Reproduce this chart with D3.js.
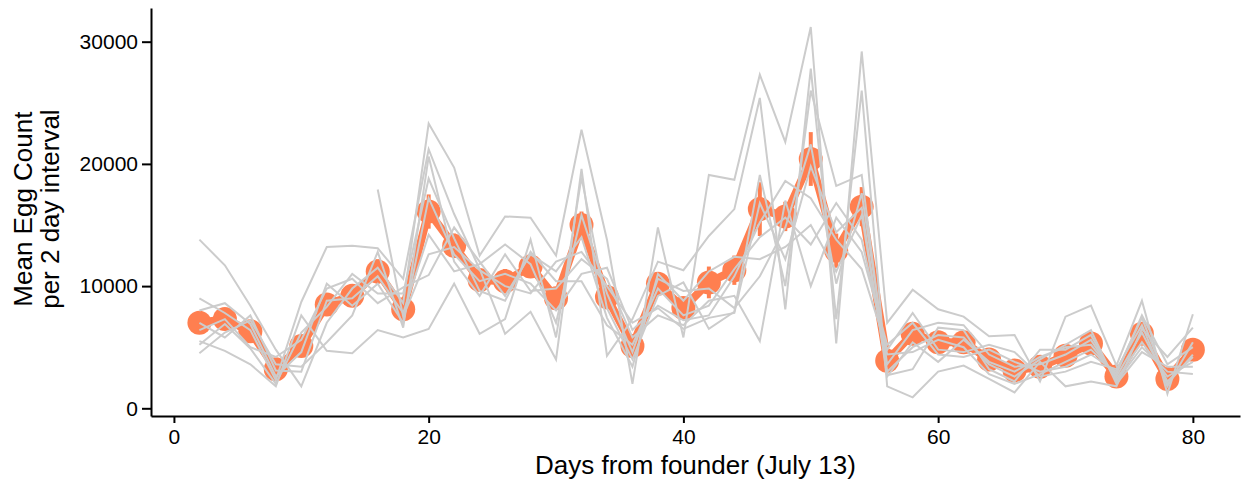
<!DOCTYPE html>
<html>
<head>
<meta charset="utf-8">
<script src="https://cdn.jsdelivr.net/npm/d3@7"></script>
<style>
  body { margin: 0; background: #fff; }
  svg { display: block; font-family: "Liberation Sans", Arial, sans-serif; }
</style>
</head>
<body>
<div id="chart"></div>
<script>
// days sampled every 2 days
const days = [2,4,6,8,10,12,14,16,18,20,22,24,26,28,30,32,34,36,38,40,
              42,44,46,48,50,52,54,56,58,60,62,64,66,68,70,72,74,76,78,80];

// mean egg count per interval (orange points)
const meanEggs = [7000,7300,6300,3200,5100,8500,9200,11200,8100,16100,
                  13300,10500,10400,11600,9000,15000,9100,5100,10200,8200,
                  10300,11300,16300,15700,20400,12900,16500,3900,6100,5400,
                  5400,4000,3100,3400,4300,5300,2600,6100,2400,4800];

// standard error (orange bars)
const seEggs = [600,700,600,400,800,900,900,1000,600,1400,
                1000,700,1000,900,900,1100,1000,600,700,700,
                1300,1200,2200,1200,2200,1400,1600,600,900,500,
                400,400,500,200,600,600,200,400,300,600];

// replicate counts, one row per day (last replicate starts at day 16)
const replicateCounts = [
  [13800, 9000, 5500, 4500, 6400, 8000, 7000, 5200, null],
  [11700, 7800, 4700, 6200, 7300, 8600, 5800, 6900, null],
  [ 8400, 6400, 3600, 7200, 5000, 6900, 7600, 4900, null],
  [ 4800, 2300, 1800, 3600, 4200, 2600, 3100, 2000, null],
  [ 1800, 8700, 7600, 3400, 5600, 4600, 3000, 6200, null],
  [ 7000,13200, 4700, 5400, 9800,10200, 8800, 8300, null],
  [ 9800,13300, 4500, 7600,10600, 8400, 9000,11000, null],
  [11500,13100, 6400,12800, 8600,10200,10800, 9400,17900],
  [ 8600,10600, 5800, 6600, 9900, 7000, 7800, 9400, 7500],
  [23300,21200, 6500,20600,10900,17200,14200,18800,12600],
  [19700,15900,10200,12000,14800,12600,11200,13900,13200],
  [12500,11400, 6100, 9200,12000,10400,11800, 9600,11300],
  [15700, 6100, 7300,12600, 9200,11000,13400, 8800,10000],
  [15600, 7900,13800, 9600,12600,10200,11800,12800, 9400],
  [12500, 4000, 5800, 9800,11200, 8000, 7000,10400,12000],
  [22800,19600,18900,12200,14000,11000,15800,10400,12800],
  [13800, 4300, 8200,10600, 7400,11500, 9400, 6800,10000],
  [ 2000, 7300, 4000, 5800, 3400, 6400, 4600, 5200, 7000],
  [14800,12000, 9200, 7600,11000, 8400,10600, 9800, 8200],
  [ 5800,11300,10300, 6800, 8800, 7200, 9600, 7600, 6500],
  [19100,14100, 6500, 8800,11200, 7600, 9800, 8400, 7400],
  [18700,16300, 7900, 9200,12400,10800, 8200,11400, 7800],
  [27300,25400,19100, 5500,12200,15200,10800,14000,16800],
  [21800, 8100,10000,17000,13200,18600,14800,15600,12200],
  [31200,27800,26000,10000,15000,17200,21600,13400,19800],
  [ 5300, 7300,18200,15600,11200,13800,10200,16800,14400],
  [29200,26000,19100,12800,15800,11400,17600,13800,16400],
  [ 7000, 1800, 2700, 5200, 3000, 4800, 3600, 4400, 2600],
  [ 9700,  900, 3200, 7000, 5000, 7800, 6400, 4600, 5400],
  [ 8100, 3000, 6600, 4400, 6000, 4800, 7000, 5600, 3800],
  [ 7500, 3500, 6400, 4200, 5800, 4600, 6800, 5000, 5600],
  [ 5900, 2400, 3200, 4800, 3600, 5200, 4400, 2800, 3800],
  [ 6000, 1300, 2200, 3800, 2600, 4600, 3400, 2000, 3000],
  [ 2200, 3800, 4800, 3000, 4000, 2600, 3600, 2800, 4200],
  [ 7500, 1800, 4800, 3400, 5200, 3000, 4400, 3800, 5000],
  [ 8400, 2200, 6000, 4400, 6400, 3800, 5600, 4800, 5200],
  [ 3500, 1800, 2200, 3000, 2000, 3200, 2400, 2800, 2600],
  [ 8800, 6500, 5000, 7400, 4600, 6800, 5400, 7600, 6200],
  [ 1200, 4200, 3000, 2000, 3400, 1800, 2600, 3600, 2200],
  [ 7700, 6600, 2800, 4400, 3400, 5400, 3800, 5000, 4200]
];

const xTicks = [0, 20, 40, 60, 80];
const yTicks = [0, 10000, 20000, 30000];

const width = 1242, height = 489;
const margin = { top: 8, right: 2, bottom: 73, left: 151 };
const innerWidth = width - margin.left - margin.right;
const innerHeight = height - margin.top - margin.bottom;

const xScale = d3.scaleLinear().domain([-1.8, 83.7]).range([0, innerWidth]);
const yScale = d3.scaleLinear().domain([-630, 32757]).range([innerHeight, 0]);

const svg = d3.select("#chart")
  .append("svg")
  .attr("width", width)
  .attr("height", height);

const g = svg.append("g")
  .attr("transform", `translate(${margin.left},${margin.top})`);

const orange = "#ff7f50";

// mean line
const meanLine = d3.line()
  .x((d, i) => xScale(days[i]))
  .y(d => yScale(d));

g.append("path")
  .datum(meanEggs)
  .attr("d", meanLine)
  .attr("fill", "none")
  .attr("stroke", orange)
  .attr("stroke-width", 8)
  .attr("stroke-linejoin", "round");

// error bars
g.selectAll(".err")
  .data(meanEggs)
  .join("line")
  .attr("class", "err")
  .attr("x1", (d, i) => xScale(days[i]))
  .attr("x2", (d, i) => xScale(days[i]))
  .attr("y1", (d, i) => yScale(d - seEggs[i]))
  .attr("y2", (d, i) => yScale(d + seEggs[i]))
  .attr("stroke", orange)
  .attr("stroke-width", 4);

// mean points
g.selectAll(".pt")
  .data(meanEggs)
  .join("circle")
  .attr("class", "pt")
  .attr("cx", (d, i) => xScale(days[i]))
  .attr("cy", d => yScale(d))
  .attr("r", 12)
  .attr("fill", orange);

// replicate lines on top
const nReps = replicateCounts[0].length;
const repLine = d3.line()
  .defined(d => d.v != null)
  .x(d => xScale(d.day))
  .y(d => yScale(d.v));

d3.range(nReps).forEach(r => {
  const series = days.map((day, i) => ({ day, v: replicateCounts[i][r] }));
  g.append("path")
    .datum(series)
    .attr("d", repLine)
    .attr("fill", "none")
    .attr("stroke", "#cccccc")
    .attr("stroke-width", 2);
});

// axes
const xAxis = g.append("g")
  .attr("transform", `translate(0,${innerHeight})`)
  .call(d3.axisBottom(xScale).tickValues(xTicks).tickSize(7).tickPadding(6).tickSizeOuter(0));

const yAxis = g.append("g")
  .call(d3.axisLeft(yScale).tickValues(yTicks).tickFormat(d3.format("d"))
    .tickSize(9).tickPadding(4).tickSizeOuter(0));

[xAxis, yAxis].forEach(ax => {
  ax.select(".domain").attr("stroke", "#000").attr("stroke-width", 2);
  ax.selectAll(".tick line").attr("stroke", "#000").attr("stroke-width", 2);
  ax.selectAll(".tick text")
    .attr("fill", "#000")
    .style("font-size", "21px")
    .style("font-family", "'Liberation Sans', Arial, sans-serif");
});

// axis titles
svg.append("text")
  .attr("x", margin.left + xScale(40) + 12)
  .attr("y", 474)
  .attr("text-anchor", "middle")
  .style("font-size", "26px")
  .text("Days from founder (July 13)");

const yTitle = svg.append("text")
  .attr("transform", `translate(32,${margin.top + yScale(16300)}) rotate(-90)`)
  .attr("text-anchor", "middle")
  .style("font-size", "26px");

yTitle.append("tspan").attr("x", 0).attr("dy", 0).text("Mean Egg Count");
yTitle.append("tspan").attr("x", 0).attr("dy", 27).text("per 2 day interval");
</script>
</body>
</html>
